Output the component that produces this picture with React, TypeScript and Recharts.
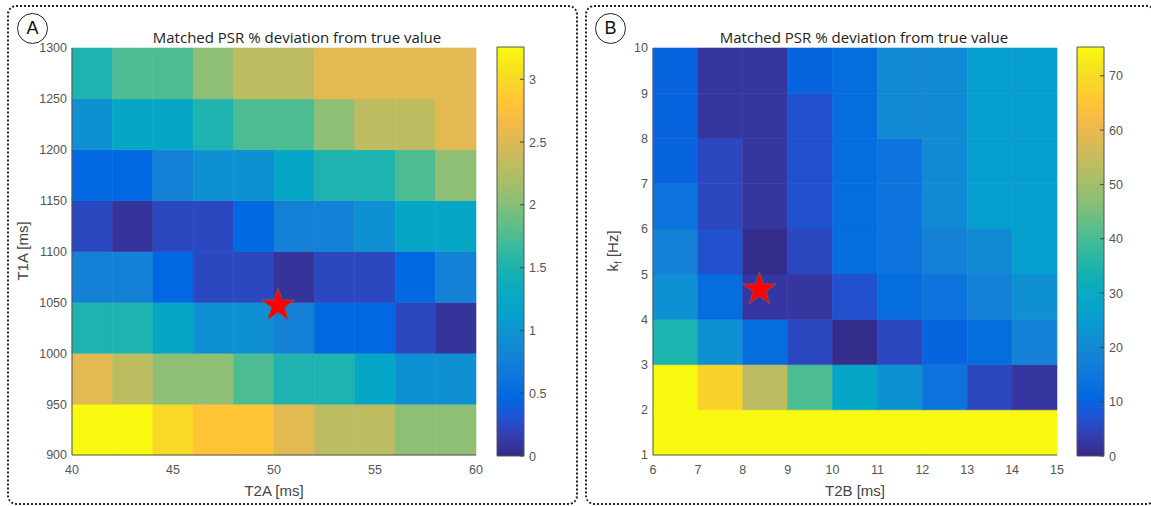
import { ScatterChart, Scatter, BarChart, Bar, XAxis, YAxis, ReferenceArea, Symbols } from 'recharts';

// Panel A: T2A (columns) x T1A (rows)
const t2aEdges = [40, 42, 44, 46, 48, 50, 52, 54, 56, 58, 60];
const t1aEdges = [900, 950, 1000, 1050, 1100, 1150, 1200, 1250, 1300];
// rows from T1A 900 up to 1250, columns from T2A 40 to 58
const deviationA = [
  [3.25, 3.25, 3.0, 2.8, 2.8, 2.54, 2.31, 2.31, 2.05, 2.05],
  [2.54, 2.31, 2.05, 2.05, 1.76, 1.5, 1.5, 1.24, 0.95, 0.95],
  [1.5, 1.5, 1.24, 0.95, 0.95, 0.78, 0.47, 0.47, 0.23, 0.08],
  [0.78, 0.78, 0.47, 0.23, 0.23, 0.08, 0.23, 0.23, 0.47, 0.78],
  [0.23, 0.08, 0.23, 0.23, 0.47, 0.78, 0.78, 0.95, 1.24, 1.24],
  [0.47, 0.47, 0.78, 0.95, 0.95, 1.24, 1.5, 1.5, 1.76, 2.05],
  [0.95, 1.24, 1.24, 1.5, 1.76, 1.76, 2.05, 2.31, 2.31, 2.54],
  [1.5, 1.76, 1.76, 2.05, 2.31, 2.31, 2.54, 2.54, 2.54, 2.54],
];
const starA = [{ x: 50.2, y: 1047 }];
const t2aTicks = [40, 45, 50, 55, 60];
const t1aTicks = [900, 950, 1000, 1050, 1100, 1150, 1200, 1250, 1300];
const colorTicksA = [0, 0.5, 1, 1.5, 2, 2.5, 3];
const colorMaxA = 3.257;

// Panel B: T2B (columns) x kf (rows)
const t2bEdges = [6, 7, 8, 9, 10, 11, 12, 13, 14, 15];
const kfEdges = [1, 2, 3, 4, 5, 6, 7, 8, 9, 10];
const deviationB = [
  [75, 75, 75, 75, 75, 75, 75, 75, 75],
  [75, 68, 53.5, 40.7, 28.6, 22, 14, 5.3, 2.3],
  [34.6, 22, 12, 5.3, 0.5, 5.3, 10, 12, 18],
  [22, 12, 2.3, 2.3, 6.8, 12, 14, 18, 22],
  [18, 6.8, 0.5, 5.3, 12, 14, 18, 20, 26],
  [14, 5.3, 2.3, 6.8, 12, 14, 20, 26, 26],
  [10, 5.3, 2.3, 6.8, 12, 14, 20, 26, 26],
  [10, 2.3, 2.3, 6.8, 12, 20, 20, 26, 26],
  [10, 2.3, 2.3, 10, 12, 20, 20, 26, 26],
];
const starB = [{ x: 8.37, y: 4.66 }];
const t2bTicks = [6, 7, 8, 9, 10, 11, 12, 13, 14, 15];
const kfTicks = [1, 2, 3, 4, 5, 6, 7, 8, 9, 10];
const colorTicksB = [0, 10, 20, 30, 40, 50, 60, 70];
const colorMaxB = 75.3;

const TITLE = 'Matched PSR % deviation from true value';

// parula, every 3rd entry of the 64-step table
const PARULA = [
  [53, 42, 135], [53, 61, 173], [32, 83, 212], [2, 104, 225], [13, 117, 220], [20, 129, 214],
  [16, 142, 210], [7, 156, 207], [6, 167, 198], [15, 174, 185], [37, 181, 169], [66, 187, 152],
  [101, 190, 134], [135, 191, 119], [165, 190, 107], [192, 188, 96], [217, 186, 86], [241, 185, 74],
  [255, 195, 55], [250, 211, 42], [245, 228, 29], [249, 251, 14],
];

function parula(t: number) {
  const c = Math.min(1, Math.max(0, t));
  const p = c * (PARULA.length - 1);
  const i = Math.min(PARULA.length - 2, Math.floor(p));
  const f = p - i;
  const a = PARULA[i];
  const b = PARULA[i + 1];
  const rgb = a.map((ch, k) => Math.round(ch + (b[k] - ch) * f));
  return `rgb(${rgb[0]},${rgb[1]},${rgb[2]})`;
}

const tickFont = { fill: '#555', fontSize: 12.5, fontFamily: '"Liberation Sans", Arial, sans-serif' };

const StarShape = (props: any) => (
  <Symbols cx={props.cx} cy={props.cy} type="star" size={350} fill="#ff0000" stroke="#7a5a5a" strokeWidth={0.8} />
);

type HeatProps = {
  left: number;
  marginLeft: number;
  marginRight: number;
  xEdges: number[];
  yEdges: number[];
  values: number[][];
  cmax: number;
  star: { x: number; y: number }[];
  xTicks: number[];
  yTicks: number[];
};

function Heatmap({ left, marginLeft, marginRight, xEdges, yEdges, values, cmax, star, xTicks, yTicks }: HeatProps) {
  const cells: JSX.Element[] = [];
  values.forEach((row, r) =>
    row.forEach((v, c) => {
      const col = parula(v / cmax);
      cells.push(
        <ReferenceArea
          key={`${r}-${c}`}
          x1={xEdges[c]}
          x2={xEdges[c + 1]}
          y1={yEdges[r]}
          y2={yEdges[r + 1]}
          fill={col}
          fillOpacity={1}
          stroke={col}
          strokeWidth={0.6}
        />
      );
    })
  );
  return (
    <div style={{ position: 'absolute', left, top: 0 }}>
      <ScatterChart width={500} height={506} margin={{ top: 48, right: marginRight, bottom: 21, left: marginLeft }}>
        <XAxis
          type="number"
          dataKey="x"
          domain={[xEdges[0], xEdges[xEdges.length - 1]]}
          ticks={xTicks}
          interval={0}
          height={30}
          tickSize={0}
          tickMargin={10}
          tick={tickFont}
          stroke="#555"
        />
        <YAxis
          type="number"
          dataKey="y"
          domain={[yEdges[0], yEdges[yEdges.length - 1]]}
          ticks={yTicks}
          interval={0}
          width={40}
          tickSize={0}
          tickMargin={5}
          tick={tickFont}
          stroke="#555"
        />
        {cells}
        <Scatter data={star} shape={StarShape} isAnimationActive={false} />
      </ScatterChart>
    </div>
  );
}

function ColorTick(props: any) {
  const { x, y, payload } = props;
  return (
    <g>
      <line x1={x - 4} x2={x} y1={y} y2={y} stroke="#444" strokeWidth={1} />
      <text x={x + 5} y={y} dy="0.36em" textAnchor="start" {...tickFont}>
        {payload.value}
      </text>
    </g>
  );
}

function Colorbar({ left, id, cmax, ticks }: { left: number; id: string; cmax: number; ticks: number[] }) {
  const stops = PARULA.map((c, i) => (
    <stop key={i} offset={`${(i / (PARULA.length - 1)) * 100}%`} stopColor={`rgb(${c[0]},${c[1]},${c[2]})`} />
  ));
  return (
    <div style={{ position: 'absolute', left, top: 0 }}>
      <BarChart
        width={70}
        height={506}
        data={[{ name: 'scale', top: cmax }]}
        margin={{ top: 47, right: 6, bottom: 50, left: 7 }}
        barCategoryGap={0}
      >
        <defs>
          <linearGradient id={id} x1="0" y1="1" x2="0" y2="0">
            {stops}
          </linearGradient>
        </defs>
        <XAxis dataKey="name" hide />
        <YAxis
          type="number"
          orientation="right"
          domain={[0, cmax]}
          ticks={ticks}
          interval={0}
          width={30}
          tickSize={0}
          tickMargin={0}
          axisLine={false}
          tickLine={false}
          tick={<ColorTick />}
        />
        <Bar dataKey="top" fill={`url(#${id})`} stroke="#555" strokeWidth={1} isAnimationActive={false} />
      </BarChart>
    </div>
  );
}

const labelFont = { fontFamily: '"Liberation Sans", Arial, sans-serif', fontSize: 15, color: '#444' };

function Panel({ left, letter }: { left: number; letter: string }) {
  return (
    <>
      <div
        style={{
          position: 'absolute',
          left,
          top: 5,
          width: 571,
          height: 500,
          boxSizing: 'border-box',
          border: '2px dotted #222',
          borderRadius: 9,
        }}
      />
      <div
        style={{
          position: 'absolute',
          left: left + 10,
          top: 13,
          width: 31,
          height: 31,
          boxSizing: 'border-box',
          border: '1px solid #222',
          borderRadius: '50%',
          display: 'flex',
          alignItems: 'center',
          justifyContent: 'center',
          fontFamily: '"Liberation Sans", Arial, sans-serif',
          fontSize: 18,
          color: '#111',
        }}
      >
        {letter}
      </div>
    </>
  );
}

function Title({ cx }: { cx: number }) {
  return (
    <div
      style={{
        position: 'absolute',
        left: cx,
        top: 37,
        transform: 'translate(-50%, -50%)',
        whiteSpace: 'nowrap',
        fontFamily: '"Open Sans", sans-serif',
        fontSize: 15,
        color: '#222',
      }}
    >
      {TITLE}
    </div>
  );
}

function AxisTitle({ cx, cy, rotate, children }: { cx: number; cy: number; rotate?: boolean; children: any }) {
  return (
    <div
      style={{
        position: 'absolute',
        left: cx,
        top: cy,
        transform: `translate(-50%, -50%)${rotate ? ' rotate(-90deg)' : ''}`,
        whiteSpace: 'nowrap',
        ...labelFont,
      }}
    >
      {children}
    </div>
  );
}

export default function App() {
  return (
    <div style={{ position: 'absolute', left: 0, top: 0, width: 1151, height: 506, background: '#fff', overflow: 'hidden' }}>
      <Panel left={7} letter="A" />
      <Panel left={585} letter="B" />

      <Heatmap
        left={0}
        marginLeft={32}
        marginRight={24}
        xEdges={t2aEdges}
        yEdges={t1aEdges}
        values={deviationA}
        cmax={colorMaxA}
        star={starA}
        xTicks={t2aTicks}
        yTicks={t1aTicks}
      />
      <Colorbar left={490} id="parulaA" cmax={colorMaxA} ticks={colorTicksA} />

      <Heatmap
        left={580}
        marginLeft={33}
        marginRight={23}
        xEdges={t2bEdges}
        yEdges={kfEdges}
        values={deviationB}
        cmax={colorMaxB}
        star={starB}
        xTicks={t2bTicks}
        yTicks={kfTicks}
      />
      <Colorbar left={1070} id="parulaB" cmax={colorMaxB} ticks={colorTicksB} />

      <Title cx={297} />
      <Title cx={864} />

      <AxisTitle cx={22} cy={251} rotate>
        T1A [ms]
      </AxisTitle>
      <AxisTitle cx={274} cy={490}>
        T2A [ms]
      </AxisTitle>
      <AxisTitle cx={614} cy={251} rotate>
        <span>
          k<sub style={{ fontSize: 10 }}>f</sub> [Hz]
        </span>
      </AxisTitle>
      <AxisTitle cx={855} cy={490}>
        T2B [ms]
      </AxisTitle>
    </div>
  );
}
